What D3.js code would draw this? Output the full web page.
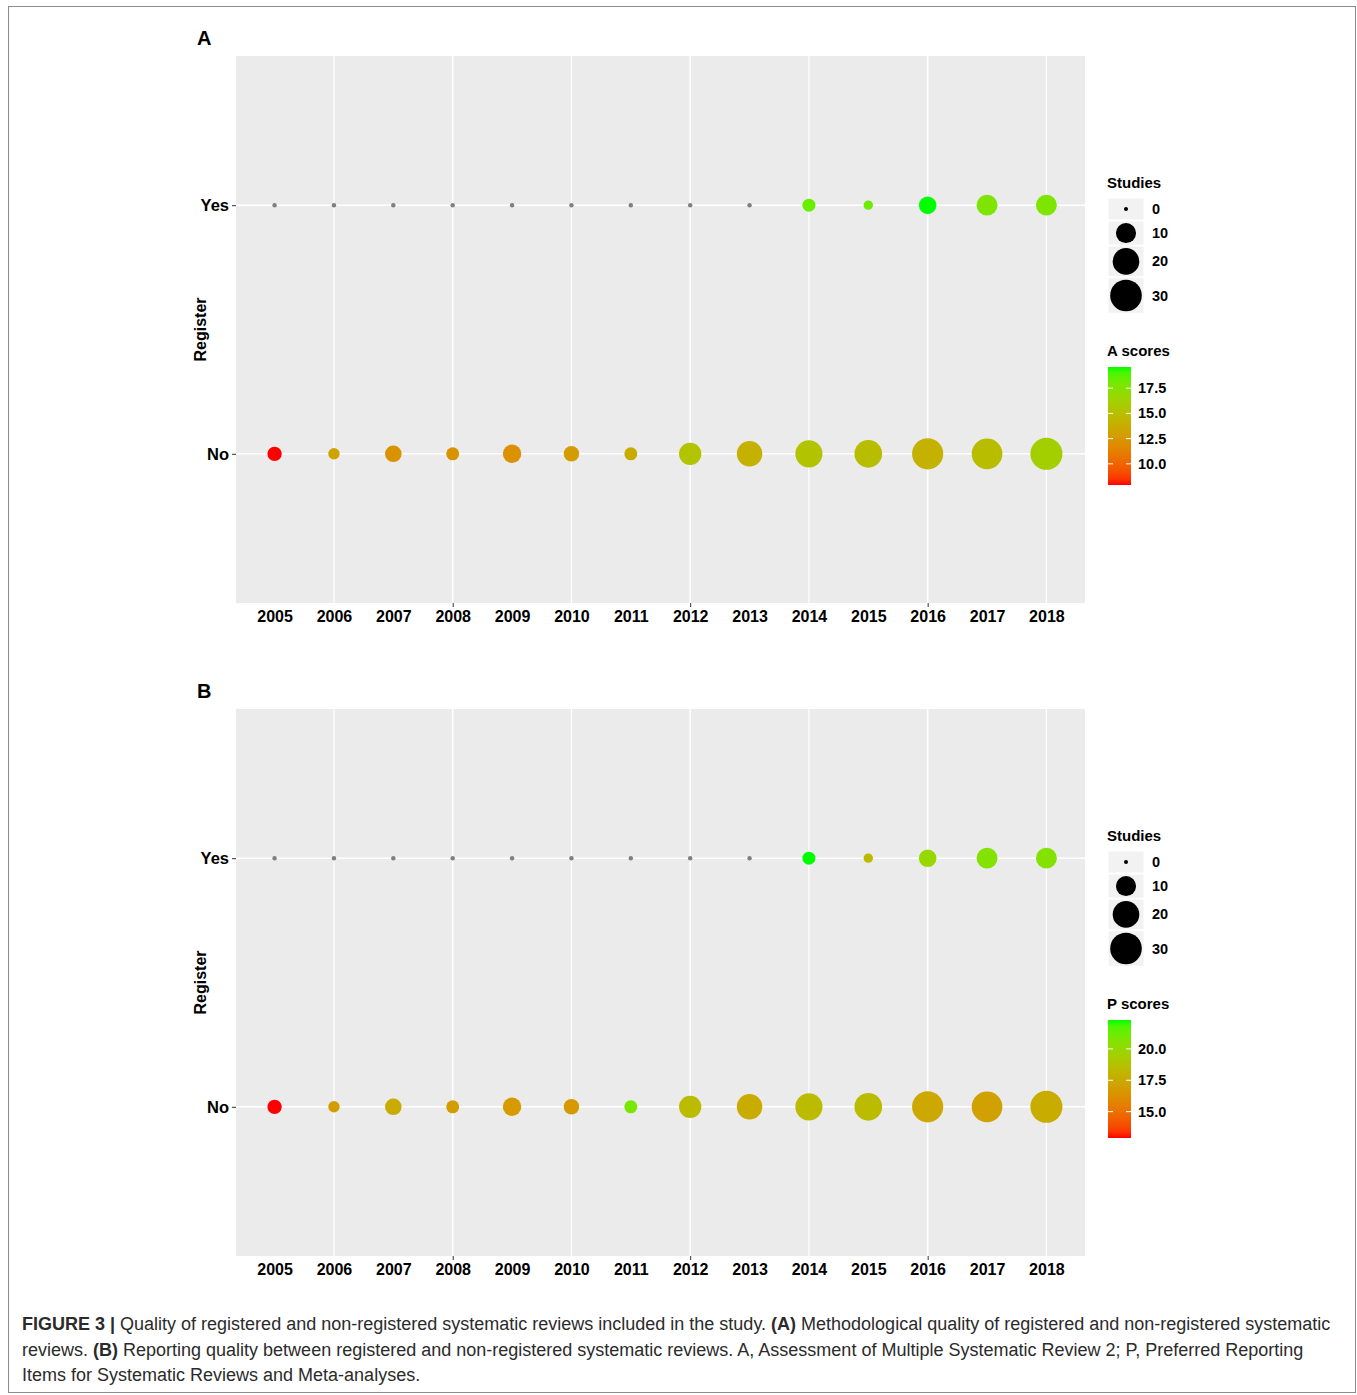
<!DOCTYPE html>
<html>
<head>
<meta charset="utf-8">
<script src="https://cdn.jsdelivr.net/npm/d3@7"></script>
<style>
  html, body { margin: 0; padding: 0; background: #fff; }
  svg { display: block; font-family: "Liberation Sans", Arial, Helvetica, sans-serif; }
</style>
</head>
<body>
<svg id="fig" width="1357" height="1395"></svg>
<script>
// Publication years on the x axis
const years = [2005, 2006, 2007, 2008, 2009, 2010, 2011, 2012, 2013, 2014, 2015, 2016, 2017, 2018];
const registerLevels = ["No", "Yes"];

// Number of reviews per year, by registration status
const studiesNo  = [4, 2, 6, 3, 8, 5, 3, 13, 18, 21, 22, 29, 28, 31];
const studiesYes = [0, 0, 0, 0, 0, 0, 0, 0, 0, 3, 1, 7, 11, 11];

// Mean AMSTAR 2 (A) scores
const aScoresNo  = [7.9, 13.2, 12.3, 12.3, 12.2, 12.8, 13.7, 15.3, 14.1, 15.3, 14.9, 14.1, 14.9, 16.1];
const aScoresYes = [null, null, null, null, null, null, null, null, null, 18.4, 18.2, 19.6, 17.7, 17.7];

// Mean PRISMA (P) scores
const pScoresNo  = [12.9, 16.9, 17.6, 16.9, 16.8, 16.7, 20.9, 18.4, 17.6, 18.4, 18.4, 17.4, 17.1, 17.6];
const pScoresYes = [null, null, null, null, null, null, null, null, null, 22.3, 18.3, 20.0, 20.6, 20.6];

// Legend breaks
const studiesBreaks = [0, 10, 20, 30];
const aScoreBreaks = [10.0, 12.5, 15.0, 17.5];
const pScoreBreaks = [15.0, 17.5, 20.0];
const majorYearBreaks = [2008, 2012, 2016];
const minorYearBreaks = [2006, 2010, 2014, 2018];

const svg = d3.select("#fig");

// thin frame around the figure
svg.append("rect")
  .attr("x", 8.5).attr("y", 6.5).attr("width", 1347).attr("height", 1386)
  .attr("fill", "none").attr("stroke", "#8c8c8c").attr("stroke-width", 1);

const panelLeft = 236, panelRight = 1085, panelH = 547;

const x = d3.scaleLinear()
  .domain([2005 - 0.65, 2018 + 0.65])
  .range([panelLeft, panelRight]);

const size = d3.scaleSqrt().domain([0, 30]).range([2.2, 15.8]);

function buildRows(noCounts, yesCounts, noScores, yesScores) {
  const rows = [];
  years.forEach((yr, i) => {
    rows.push({ year: yr, reg: "No", n: noCounts[i], score: noScores[i] });
    rows.push({ year: yr, reg: "Yes", n: yesCounts[i], score: yesScores[i] });
  });
  return rows;
}

function drawPanel(top, letter, rows, scoreTitle, scoreBreaks) {
  const g = svg.append("g");
  const bottom = top + panelH;

  // discrete y with ggplot-like padding
  const y = d3.scalePoint().domain(registerLevels).range([bottom, top]).padding(0.6);

  const scores = rows.filter(r => r.score != null).map(r => r.score);
  const ext = d3.extent(scores);
  const color = d3.scaleLinear().domain(ext).range(["#FF0000", "#00FF00"])
    .interpolate(d3.interpolateLab);

  // panel background
  g.append("rect")
    .attr("x", panelLeft).attr("y", top)
    .attr("width", panelRight - panelLeft).attr("height", panelH)
    .attr("fill", "#EBEBEB");

  // grid lines
  g.selectAll(".vmin").data(minorYearBreaks).join("line")
    .attr("x1", d => x(d)).attr("x2", d => x(d))
    .attr("y1", top).attr("y2", bottom)
    .attr("stroke", "#fff").attr("stroke-width", 1.2);
  g.selectAll(".vmaj").data(majorYearBreaks).join("line")
    .attr("x1", d => x(d)).attr("x2", d => x(d))
    .attr("y1", top).attr("y2", bottom)
    .attr("stroke", "#fff").attr("stroke-width", 1.6);
  g.selectAll(".hmaj").data(registerLevels).join("line")
    .attr("x1", panelLeft).attr("x2", panelRight)
    .attr("y1", d => y(d)).attr("y2", d => y(d))
    .attr("stroke", "#fff").attr("stroke-width", 1.6);

  // bubbles
  g.selectAll(".pt").data(rows).join("circle")
    .attr("cx", d => x(d.year))
    .attr("cy", d => y(d.reg))
    .attr("r", d => size(d.n))
    .attr("fill", d => d.score == null ? "#7F7F7F" : color(d.score));

  // y axis
  const yAxis = g.append("g")
    .attr("transform", `translate(${panelLeft},0)`)
    .call(d3.axisLeft(y).tickSize(4).tickPadding(3));
  yAxis.select(".domain").remove();
  yAxis.selectAll("line").attr("stroke", "#333");
  yAxis.selectAll("text")
    .attr("fill", "#000").attr("font-size", 16.5).attr("font-weight", "bold")
    .attr("font-family", "'Liberation Sans', Arial, sans-serif");

  // x axis: tick marks at major breaks, labels for every year
  const xTicks = g.append("g")
    .attr("transform", `translate(0,${bottom})`)
    .call(d3.axisBottom(x).tickValues(majorYearBreaks).tickSize(4).tickFormat(""));
  xTicks.select(".domain").remove();
  xTicks.selectAll("line").attr("stroke", "#333");

  const xLabels = g.append("g")
    .attr("transform", `translate(0,${bottom})`)
    .call(d3.axisBottom(x).tickValues(years).tickSize(0).tickPadding(8).tickFormat(d3.format("d")));
  xLabels.select(".domain").remove();
  xLabels.selectAll("text")
    .attr("fill", "#000").attr("font-size", 16).attr("font-weight", "bold")
    .attr("font-family", "'Liberation Sans', Arial, sans-serif");

  // y title
  g.append("text")
    .attr("transform", `translate(206,${(y("Yes") + y("No")) / 2}) rotate(-90)`)
    .attr("text-anchor", "middle")
    .attr("font-size", 16).attr("font-weight", "bold").attr("fill", "#000")
    .text("Register");

  // panel tag
  g.append("text")
    .attr("x", 197).attr("y", top - 11)
    .attr("font-size", 20).attr("font-weight", "bold").attr("fill", "#000")
    .text(letter);

  // size legend
  const lx = 1107;
  let ly = top + 132;
  g.append("text").attr("x", lx).attr("y", ly)
    .attr("font-size", 15).attr("font-weight", "bold").attr("fill", "#000")
    .text("Studies");
  ly += 10;
  const keyW = 36;
  studiesBreaks.forEach(b => {
    const r = size(b);
    const h = Math.max(22, 2 * r + 4);
    g.append("rect").attr("x", lx + 1).attr("y", ly)
      .attr("width", keyW).attr("height", h)
      .attr("fill", "#F2F2F2").attr("stroke", "#fff").attr("stroke-width", 1);
    g.append("circle").attr("cx", lx + 1 + keyW / 2).attr("cy", ly + h / 2)
      .attr("r", b === 0 ? 2 : r).attr("fill", "#000");
    g.append("text").attr("x", lx + 45).attr("y", ly + h / 2 + 5)
      .attr("font-size", 14.5).attr("font-weight", "bold").attr("fill", "#000")
      .text(b);
    ly += h + 1;
  });

  // colour bar legend
  const cbTitleY = top + 300;
  g.append("text").attr("x", lx).attr("y", cbTitleY)
    .attr("font-size", 15).attr("font-weight", "bold").attr("fill", "#000")
    .text(scoreTitle);
  const cbTop = top + 311, cbH = 118, cbW = 23, cbX = lx + 1;
  const cbScale = d3.scaleLinear().domain(ext).range([cbTop + cbH, cbTop]);
  const gradId = "grad" + letter;
  const grad = svg.append("defs").append("linearGradient")
    .attr("id", gradId).attr("x1", 0).attr("y1", 1).attr("x2", 0).attr("y2", 0);
  d3.range(0, 1.0001, 0.05).forEach(t => {
    grad.append("stop").attr("offset", t)
      .attr("stop-color", color(ext[0] + t * (ext[1] - ext[0])));
  });
  g.append("rect").attr("x", cbX).attr("y", cbTop)
    .attr("width", cbW).attr("height", cbH)
    .attr("fill", `url(#${gradId})`);
  scoreBreaks.forEach(b => {
    const yy = cbScale(b);
    g.append("line").attr("x1", cbX).attr("x2", cbX + 5)
      .attr("y1", yy).attr("y2", yy).attr("stroke", "#fff").attr("stroke-width", 1);
    g.append("line").attr("x1", cbX + cbW - 5).attr("x2", cbX + cbW)
      .attr("y1", yy).attr("y2", yy).attr("stroke", "#fff").attr("stroke-width", 1);
    g.append("text").attr("x", cbX + cbW + 7).attr("y", yy + 5)
      .attr("font-size", 14.5).attr("font-weight", "bold").attr("fill", "#000")
      .text(d3.format(".1f")(b));
  });
}

drawPanel(56, "A", buildRows(studiesNo, studiesYes, aScoresNo, aScoresYes), "A scores", aScoreBreaks);
drawPanel(709, "B", buildRows(studiesNo, studiesYes, pScoresNo, pScoresYes), "P scores", pScoreBreaks);

// caption
const captionLines = [
  [["FIGURE 3 | ", true], ["Quality of registered and non-registered systematic reviews included in the study. ", false], ["(A)", true], [" Methodological quality of registered and non-registered systematic", false]],
  [["reviews. ", false], ["(B)", true], [" Reporting quality between registered and non-registered systematic reviews. A, Assessment of Multiple Systematic Review 2; P, Preferred Reporting", false]],
  [["Items for Systematic Reviews and Meta-analyses.", false]]
];
const cap = svg.append("g").attr("font-size", 18).attr("fill", "#2b2b2b");
captionLines.forEach((line, i) => {
  const t = cap.append("text").attr("x", 22).attr("y", 1330 + i * 25.5);
  line.forEach(([s, b]) => {
    t.append("tspan").attr("font-weight", b ? "bold" : "normal").text(s);
  });
});
</script>
</body>
</html>
